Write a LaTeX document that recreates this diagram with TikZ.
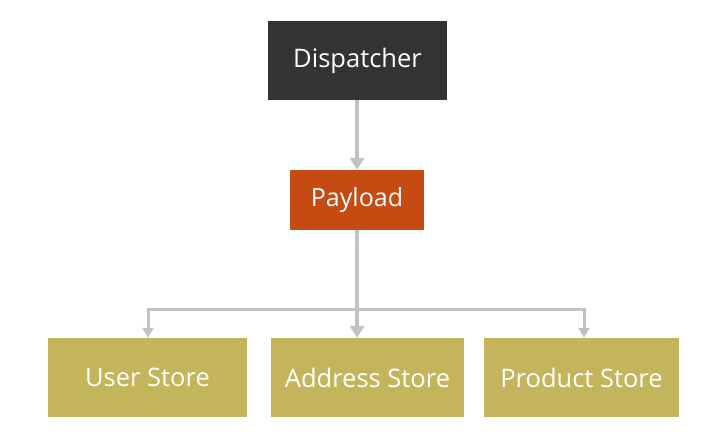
\documentclass[tikz,border=0pt]{standalone}
\usepackage{fontspec}
\setmainfont{Open Sans}
\usetikzlibrary{arrows.meta}
\definecolor{dispc}{HTML}{333333}
\definecolor{payc}{HTML}{C54B12}
\definecolor{storec}{HTML}{C4B55C}
\definecolor{linec}{HTML}{C2C2C2}
\tikzset{
  box/.style={rectangle, inner sep=0pt, text=white, font=\fontsize{25.5}{30}\selectfont},
  storebox/.style={box, fill=storec, minimum height=79pt, font=\fontsize{25.5}{30}\selectfont},
  conn/.style={draw=linec, line width=4pt, -{Triangle[width=14pt,length=12pt]}},
  branch/.style={draw=linec, line width=3pt, -{Triangle[width=11pt,length=10pt]}}
}
\begin{document}
\begin{tikzpicture}[x=1pt,y=-1pt]
\useasboundingbox (0,0) rectangle (721,438);
\node[box, fill=dispc, minimum width=179pt, minimum height=79pt] (disp) at (357.5,60.5) {Dispatcher};
\node[box, fill=payc, minimum width=134pt, minimum height=60pt, font=\fontsize{25}{30}\selectfont] (pay) at (357,200) {Payload};
\node[storebox, minimum width=199pt] (user) at (147.5,377.5) {User Store};
\node[storebox, minimum width=193pt] (addr) at (367.5,377.5) {Address Store};
\node[storebox, minimum width=195pt] (prod) at (581.5,377.5) {Product Store};
\coordinate (j) at (357,310);
\coordinate (jl) at (148,310);
\coordinate (jr) at (584,310);
\draw[conn] (disp.south -| pay.north) -- (pay.north);
\draw[conn] (pay.south) -- (pay.south |- addr.north);
\draw[branch] (j) -- (jl) -- (jl |- user.north);
\draw[branch] (j) -- (jr) -- (jr |- prod.north);
\end{tikzpicture}
\end{document}
